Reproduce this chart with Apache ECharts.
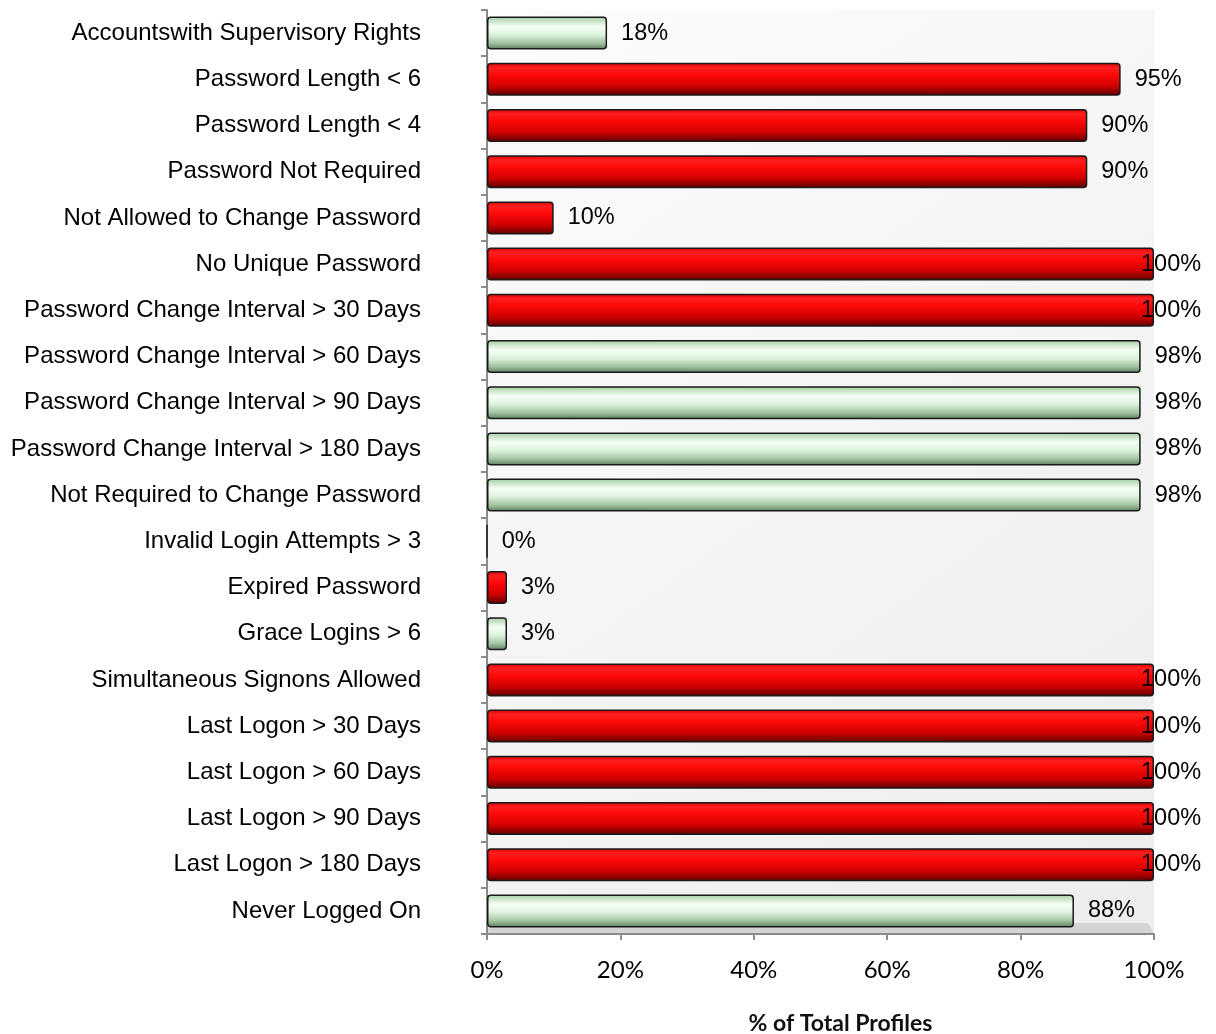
<!DOCTYPE html>
<html>
<head>
<meta charset="utf-8">
<script src="https://cdn.jsdelivr.net/npm/echarts@6/dist/echarts.min.js"></script>
<style>
  html, body { margin: 0; padding: 0; background: #ffffff; }
  #chart { width: 1216px; height: 1034px; }
</style>
</head>
<body>
<div id="chart"></div>
<script>
// Profile audit checks, listed top to bottom
const categories = [
  'Accountswith Supervisory Rights',
  'Password Length < 6',
  'Password Length < 4',
  'Password Not Required',
  'Not Allowed to Change Password',
  'No Unique Password',
  'Password Change Interval > 30 Days',
  'Password Change Interval > 60 Days',
  'Password Change Interval > 90 Days',
  'Password Change Interval > 180 Days',
  'Not Required to Change Password',
  'Invalid Login Attempts > 3',
  'Expired Password',
  'Grace Logins > 6',
  'Simultaneous Signons Allowed',
  'Last Logon > 30 Days',
  'Last Logon > 60 Days',
  'Last Logon > 90 Days',
  'Last Logon > 180 Days',
  'Never Logged On'
];

// Percentage of total profiles failing each check
const percentValues = [18, 95, 90, 90, 10, 100, 100, 98, 98, 98, 98, 0, 3, 3, 100, 100, 100, 100, 100, 88];

// Rating of each check: 'fail' = red, 'pass' = green
const ratings = ['pass', 'fail', 'fail', 'fail', 'fail', 'fail', 'fail', 'pass', 'pass', 'pass',
                 'pass', 'fail', 'fail', 'pass', 'fail', 'fail', 'fail', 'fail', 'fail', 'pass'];

// X axis tick values (percent)
const xTicks = [0, 20, 40, 60, 80, 100];

const redFill = new echarts.graphic.LinearGradient(0, 0, 0, 1, [
  { offset: 0, color: '#d40000' },
  { offset: 0.15, color: '#ff2020' },
  { offset: 0.35, color: '#ff0a0a' },
  { offset: 0.7, color: '#d00000' },
  { offset: 1, color: '#5a0000' }
]);
const greenFill = new echarts.graphic.LinearGradient(0, 0, 0, 1, [
  { offset: 0, color: '#a3cba3' },
  { offset: 0.3, color: '#f6fff6' },
  { offset: 0.55, color: '#dcf1dc' },
  { offset: 0.8, color: '#a2c4a2' },
  { offset: 1, color: '#5a7c5a' }
]);

const barData = percentValues.map((v, i) => ({
  value: v,
  itemStyle: { color: ratings[i] === 'fail' ? redFill : greenFill },
  label: v === 100 ? { distance: -13 } : {}
}));

const chart = echarts.init(document.getElementById('chart'));

const gridLeft = 487, gridRight = 62, gridTop = 10, gridBottom = 100;

chart.setOption({
  animation: false,
  backgroundColor: '#ffffff',
  grid: {
    left: gridLeft, right: gridRight, top: gridTop, bottom: gridBottom,
    outerBoundsMode: 'none',
    containLabel: false,
    show: true,
    borderWidth: 0,
    backgroundColor: new echarts.graphic.LinearGradient(0, 0, 1, 1, [
      { offset: 0, color: '#fcfcfc' },
      { offset: 1, color: '#ededed' }
    ])
  },
  xAxis: {
    type: 'value',
    min: xTicks[0],
    max: xTicks[xTicks.length - 1],
    interval: xTicks[1] - xTicks[0],
    axisLine: { show: true, lineStyle: { color: '#8c8c8c', width: 2 } },
    axisTick: { show: true, length: 6, lineStyle: { color: '#8c8c8c', width: 2 } },
    splitLine: { show: false },
    axisLabel: {
      formatter: '{value}%',
      fontFamily: 'Lato',
      fontSize: 24,
      color: '#000000',
      margin: 24
    },
    name: '% of Total Profiles',
    nameLocation: 'middle',
    nameGap: 78,
    nameTextStyle: {
      fontFamily: 'Lato',
      fontWeight: 'bold',
      fontSize: 23,
      color: '#111111',
      padding: [0, 0, 0, 40]
    }
  },
  yAxis: {
    type: 'category',
    data: categories,
    inverse: true,
    axisLine: { show: true, lineStyle: { color: '#8c8c8c', width: 2 } },
    axisTick: { show: true, length: 6, lineStyle: { color: '#8c8c8c', width: 2 } },
    axisLabel: {
      fontFamily: 'Liberation Sans',
      fontSize: 24,
      color: '#000000',
      margin: 66
    }
  },
  series: [{
    type: 'bar',
    data: barData,
    barWidth: 33,
    itemStyle: {
      borderColor: '#1a1a1a',
      borderWidth: 1.5,
      borderRadius: 3
    },
    label: {
      show: true,
      position: 'right',
      distance: 14,
      formatter: '{c}%',
      fontFamily: 'Liberation Sans',
      fontSize: 23.5,
      color: '#000000'
    }
  }]
});

// Floor strip under the bars
const x0 = chart.convertToPixel({ xAxisIndex: 0 }, xTicks[0]);
const x1 = chart.convertToPixel({ xAxisIndex: 0 }, xTicks[xTicks.length - 1]);
const yBase = 1034 - gridBottom;
chart.setOption({
  graphic: [{
    type: 'polygon',
    z: 0,
    silent: true,
    shape: { points: [[x0, yBase], [x1, yBase], [x1 - 6, yBase - 11], [x0 + 3, yBase - 11]] },
    style: { fill: '#d4d4d4' }
  }]
});
</script>
</body>
</html>
